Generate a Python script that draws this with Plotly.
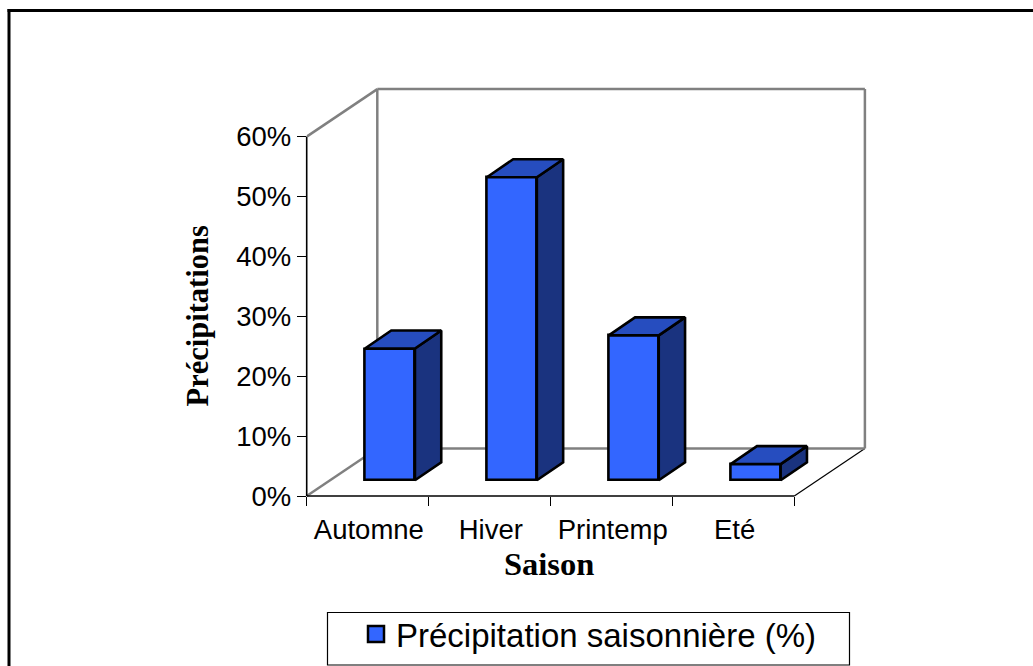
import plotly.graph_objects as go

categories = ["Automne", "Hiver", "Printemp", "Eté"]
values = [22.0, 50.6, 24.2, 2.7]
y_ticks = [0, 10, 20, 30, 40, 50, 60]
y_tick_labels = ["0%", "10%", "20%", "30%", "40%", "50%", "60%"]
series_name = "Précipitation saisonnière (%)"

W, H = 1033, 666
L, R, T, B = 306.7, 870.0, 85.0, 496.0
PX_PER_CAT = 121.9
PX_PER_PCT = 5.99
x_max = (R - L) / PX_PER_CAT
y_max = (B - T) / PX_PER_PCT

FLOOR_DX = 70.6 / PX_PER_CAT
FLOOR_DY = 47.5 / PX_PER_PCT
BAR_DX = 26.3 / PX_PER_CAT
BAR_DY = 18.0 / PX_PER_PCT
BAR_BASE = 15.7 / PX_PER_PCT
BAR_W = 0.41
BAR_C = 0.683

FRONT, SIDE, TOP = "#3366FF", "#1A337F", "#264DBF"
GREY = "#808080"
EDGE = 2.6


def px(x):
    return x / W


def py(y):
    return 1 - y / H


n = len(categories)
centers = [i + BAR_C for i in range(n)]

side_x, side_y, top_x, top_y = [], [], [], []
for c, v in zip(centers, values):
    x0, x1 = c - BAR_W / 2, c + BAR_W / 2
    y0, y1 = BAR_BASE, BAR_BASE + v
    side_x += [x1, x1 + BAR_DX, x1 + BAR_DX, x1, x1, None]
    side_y += [y0, y0 + BAR_DY, y1 + BAR_DY, y1, y0, None]
    top_x += [x0, x1, x1 + BAR_DX, x0 + BAR_DX, x0, None]
    top_y += [y1, y1, y1 + BAR_DY, y1 + BAR_DY, y1, None]

fig = go.Figure()
fig.add_trace(go.Bar(
    x=centers, y=values, base=[BAR_BASE] * n, width=BAR_W,
    marker=dict(color=FRONT, line=dict(color="black", width=EDGE)),
    showlegend=False, hoverinfo="skip",
))
for xs, ys, col in ((side_x, side_y, SIDE), (top_x, top_y, TOP)):
    fig.add_trace(go.Scatter(
        x=xs, y=ys, mode="lines", fill="toself", fillcolor=col,
        line=dict(color="black", width=EDGE), showlegend=False, hoverinfo="skip",
    ))
fig.add_trace(go.Scatter(
    x=[None], y=[None], mode="markers", name=series_name,
    marker=dict(symbol="square", size=16, color=FRONT, line=dict(color="black", width=2.5)),
))


def seg(x0, y0, x1, y1, color=GREY, width=2.5):
    return dict(type="line", xref="x", yref="y", x0=x0, y0=y0, x1=x1, y1=y1,
                line=dict(color=color, width=width), layer="below")


def pseg(x0, y0, x1, y1, color, width, layer="below"):
    return dict(type="line", xref="paper", yref="paper", x0=px(x0), y0=py(y0), x1=px(x1), y1=py(y1),
                line=dict(color=color, width=width), layer=layer)


top_val = y_ticks[-1]
front_right = L + n * PX_PER_CAT
front_top = B - top_val * PX_PER_PCT
shapes = [
    # back wall and floor
    seg(FLOOR_DX, FLOOR_DY, FLOOR_DX, top_val + FLOOR_DY),
    seg(FLOOR_DX, top_val + FLOOR_DY, n + FLOOR_DX, top_val + FLOOR_DY),
    seg(n + FLOOR_DX, FLOOR_DY, n + FLOOR_DX, top_val + FLOOR_DY),
    seg(FLOOR_DX, FLOOR_DY, n + FLOOR_DX, FLOOR_DY),
    seg(0, top_val, FLOOR_DX, top_val + FLOOR_DY),
    pseg(L, B, L + 70.6, B - 47.5, GREY, 2.5),
    pseg(front_right, B, front_right + 70.6, B - 47.5, "black", 1.2),
    # front axes
    pseg(L, B, L, front_top, "black", 1.6),
    pseg(L, B, front_right, B, "black", 1.6),
    # outer frame: top and left edges only
    pseg(7.5, 10.5, W, 10.5, "black", 3, "above"),
    pseg(9, 9, 9, H, "black", 3, "above"),
    # legend box
    dict(type="rect", xref="paper", yref="paper", x0=px(327.5), y0=py(612.5), x1=px(849.5), y1=py(665),
         line=dict(color="black", width=1.2), fillcolor="white", layer="below"),
]

annotations = [
    dict(text="<b>Saison</b>", xref="paper", yref="paper", x=px(548.5), y=py(564), showarrow=False,
         xanchor="center", yanchor="middle",
         font=dict(family="Liberation Serif", size=32.5, color="black")),
    dict(text="<b>Précipitations</b>", xref="paper", yref="paper", x=px(198), y=py(316.5), showarrow=False,
         textangle=-90, xanchor="center", yanchor="middle",
         font=dict(family="Liberation Serif", size=30.5, color="black")),
]

fig.update_layout(
    width=W, height=H, autosize=False,
    margin=dict(l=0, r=0, t=0, b=0, pad=0, autoexpand=False),
    paper_bgcolor="white", plot_bgcolor="rgba(0,0,0,0)",
    font=dict(family="Liberation Sans", color="black"),
    shapes=shapes, annotations=annotations,
    bargap=0,
    showlegend=True,
    legend=dict(x=px(356), y=py(634), xanchor="left", yanchor="middle",
                bgcolor="rgba(0,0,0,0)", borderwidth=0,
                font=dict(family="Liberation Sans", size=33, color="black")),
    xaxis=dict(
        domain=[px(L), px(R)],
        range=[0, x_max], showgrid=False, zeroline=False, showline=False,
        tickmode="array", tickvals=[i + 0.51 for i in range(n)], ticktext=categories,
        ticks="outside", ticklen=9, tickcolor="rgba(0,0,0,0)",
        tickfont=dict(family="Liberation Sans", size=27.5),
        minor=dict(tickmode="array", tickvals=list(range(n + 1)), ticks="outside", ticklen=9,
                   tickcolor="black", tickwidth=1.2, showgrid=False),
    ),
    yaxis=dict(
        domain=[py(B), py(T)],
        range=[0, y_max], showgrid=False, zeroline=False, showline=False,
        tickmode="array", tickvals=y_ticks, ticktext=y_tick_labels,
        ticks="outside", ticklen=9, tickcolor="black", tickwidth=1.2,
        tickfont=dict(family="Liberation Sans", size=27.5),
    ),
)

fig.write_html("out.html", config=dict(displayModeBar=False),
               post_script="document.body.style.margin='0';document.body.style.overflow='hidden';")
